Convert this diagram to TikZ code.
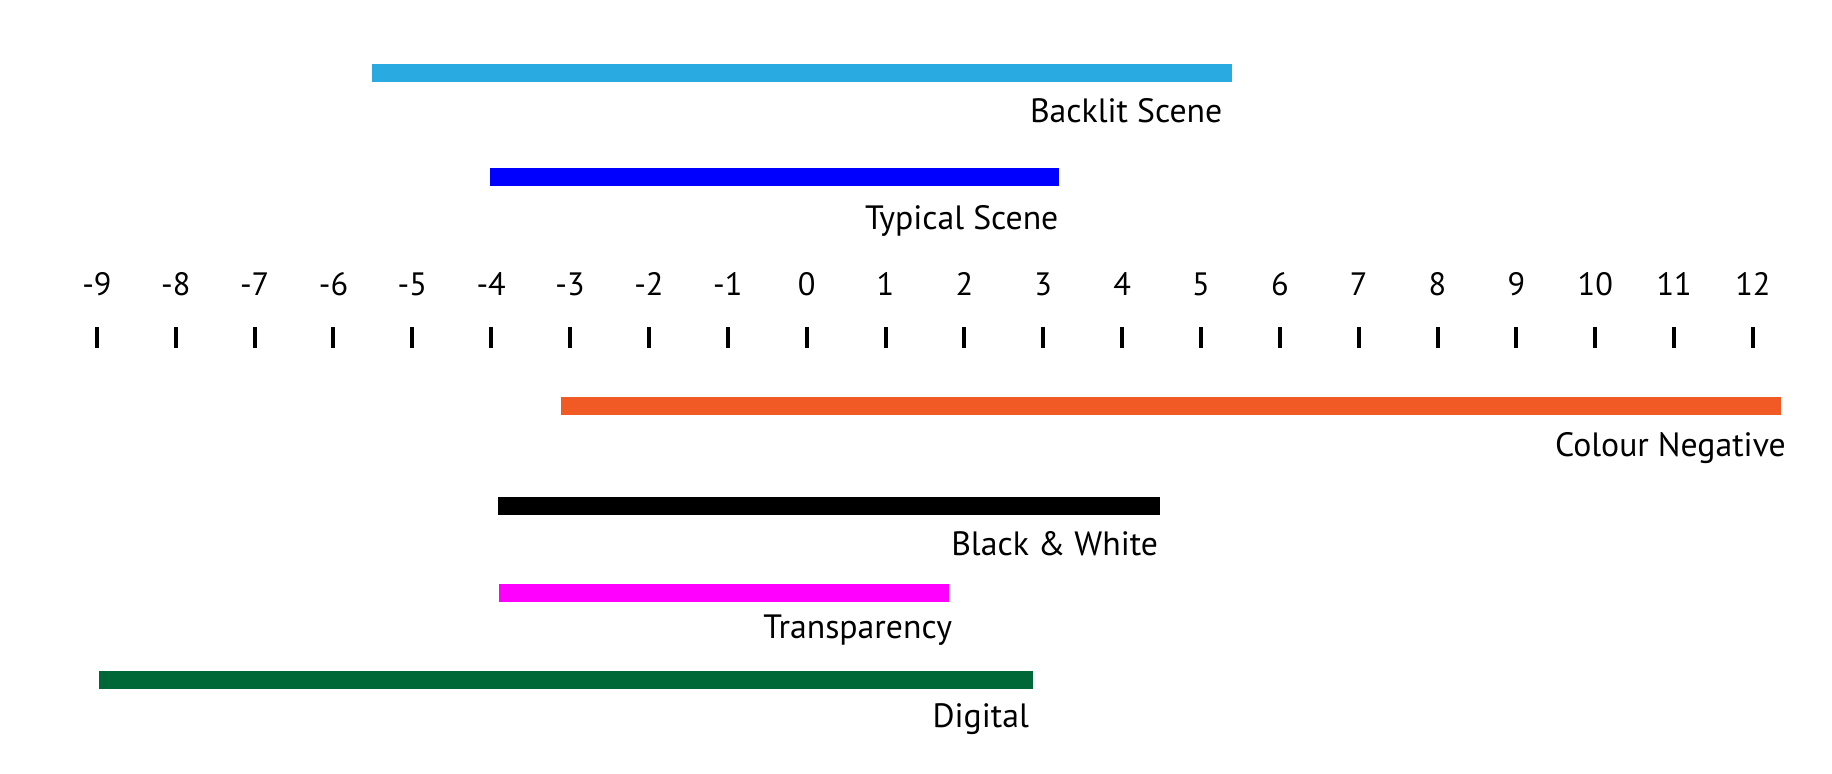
\documentclass[tikz,border=0pt]{standalone}
\usepackage{fontspec}
\setmainfont{PT Sans}
\usepackage{xcolor}
\usetikzlibrary{positioning}

\definecolor{backlitblue}{HTML}{29ABE2}
\definecolor{typicalblue}{HTML}{0000FF}
\definecolor{negorange}{HTML}{F15A24}
\definecolor{slidemagenta}{HTML}{FF00FF}
\definecolor{digitalgreen}{HTML}{006837}

\tikzset{
  rangebar/.style={line width=0.18cm},
  stoptick/.style={line width=0.04cm, black},
  stopnum/.style={anchor=base, inner sep=0pt, font=\fontsize{9.2pt}{10pt}\selectfont},
  rangelabel/.style={anchor=base east, inner sep=0pt, font=\fontsize{9.6pt}{11pt}\selectfont}
}

\begin{document}
\begin{tikzpicture}[x=0.7886cm, y=1cm]
\useasboundingbox (-10.229,0) rectangle (13.002,-7.73);

%scale
\foreach \s in {-9,...,12}{
  \node[stopnum] (num\s) at (\s,-2.95) {\s};
  \draw[stoptick] (\s,-3.27) -- (\s,-3.48);
}

%ranges
\draw[rangebar, backlitblue] (-5.508,-0.73) -- (5.388,-0.73);
\draw[rangebar, typicalblue] (-4.016,-1.77) -- (3.196,-1.77);
\draw[rangebar, negorange] (-3.118,-4.06) -- (12.35,-4.06);
\draw[rangebar, black] (-3.908,-5.06) -- (4.485,-5.06);
\draw[rangebar, slidemagenta] (-3.904,-5.93) -- (1.81,-5.93);
\draw[rangebar, digitalgreen] (-8.975,-6.80) -- (2.868,-6.80);

%labels
\node[rangelabel] (backlit) at (5.279,-1.22) {Backlit Scene};
\node[rangelabel] (typical) at (3.201,-2.29) {Typical Scene};
\node[rangelabel] (negative) at (12.425,-4.56) {Colour Negative};
\node[rangelabel] (bw) at (4.465,-5.55) {Black \& White};
\node[rangelabel] (transparency) at (1.853,-6.38) {Transparency};
\node[rangelabel] (digital) at (2.827,-7.27) {Digital};

\end{tikzpicture}
\end{document}
